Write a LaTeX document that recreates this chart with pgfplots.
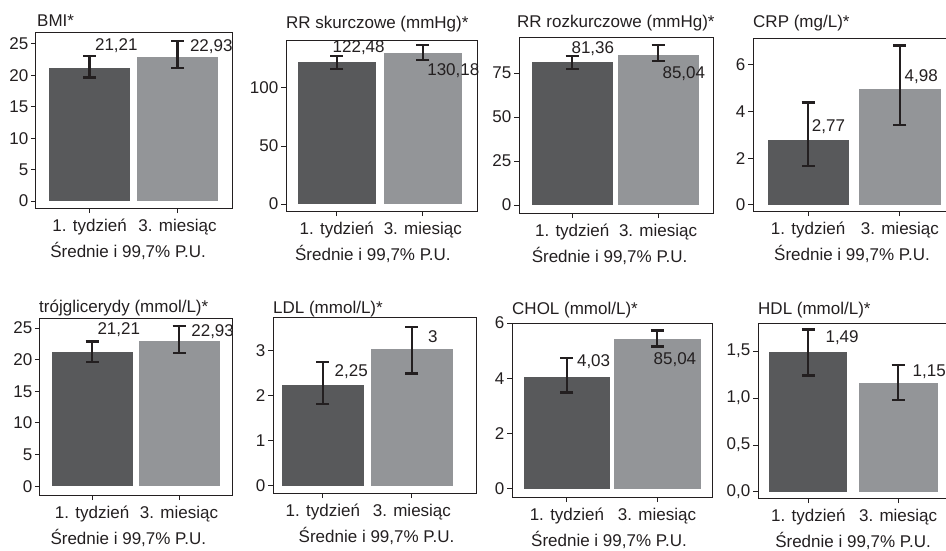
\documentclass[border=0pt]{standalone}
\usepackage{fontspec}
\setmainfont{Liberation Sans}
\usepackage{pgfplots}
\pgfplotsset{compat=1.18}
\definecolor{dark}{HTML}{58595B}
\definecolor{light}{HTML}{939598}
\definecolor{eb}{HTML}{231F20}
\definecolor{ax}{HTML}{231F20}
\newcommand\fsz{\fontsize{17}{20}\selectfont}
\pgfplotsset{
 panel/.style={
  scale only axis, anchor=south west, clip=false,
  axis line style={line width=1pt, color=ax},
  tick style={line width=1pt, color=ax},
  tick align=outside, major tick length=5pt, tick pos=left,
  xtick={0,1}, xticklabels={1. tydzień,3. miesiąc},
  xticklabel style={anchor=base, yshift=-18pt, font=\fsz, text=ax},
  yticklabel style={font=\fsz, text=ax, inner sep=2.5pt},
 },
 bars/.style={ybar, bar shift=0pt, draw=none, bar width=#1,
  error bars/y dir=both, error bars/y explicit,
  error bars/error bar style={line width=2.3pt, color=eb, draw=eb},
  error bars/error mark=|,
  error bars/error mark options={line width=2.5pt, mark size=6.5pt, color=eb, draw=eb}},
}
\tikzset{
 lab/.style={anchor=west, inner sep=0pt, font=\fsz, text=ax},
 ttl/.style={anchor=base west, inner sep=0pt, font=\fsz, text=ax},
 xl/.style={anchor=base, inner sep=0pt, font=\fsz, text=ax, yshift=-49pt},
}
\begin{document}
\begin{tikzpicture}
\path[use as bounding box] (0,0) rectangle (946pt,550pt);
% ---------- BMI
\begin{axis}[panel, at={(36pt,342pt)}, width=196pt, height=175pt,
  xmin=-0.61, xmax=1.62, ymin=-1.1, ymax=26.75,
  ytick={0,5,10,15,20,25}, yticklabels={0,5,10,15,20,25}]
\addplot[fill=dark, bars=81pt] coordinates {(0,21.21) +=(0,1.89) -=(0,1.51)};
\addplot[fill=light, bars=81pt] coordinates {(1,22.93) +=(0,2.57) -=(0,1.73)};
\node[lab] at (axis cs:0.06,24.8) {21,21};
\node[lab] at (axis cs:1.14,24.5) {22,93};
\node[ttl, xshift=1pt, yshift=6pt] at (rel axis cs:0,1) {BMI*};
\node[xl] at (rel axis cs:0.47,0) {Średnie i 99,7\% P.U.};
\end{axis}
% ---------- RR skurczowe
\begin{axis}[panel, at={(286pt,339pt)}, width=191pt, height=170pt,
  xmin=-0.59, xmax=1.63, ymin=-6, ymax=140.5,
  ytick={0,50,100}, yticklabels={0,50,100}]
\addplot[fill=dark, bars=78pt] coordinates {(0,122.48) +=(0,5.1) -=(0,6.1)};
\addplot[fill=light, bars=78pt] coordinates {(1,130.18) +=(0,6.8) -=(0,6.2)};
\node[lab] at (axis cs:-0.05,135) {122,48};
\node[lab] at (axis cs:1.05,114.6) {130,18};
\node[ttl, yshift=12pt] at (rel axis cs:0,1) {RR skurczowe (mmHg)*};
\node[xl] at (rel axis cs:0.455,0) {Średnie i 99,7\% P.U.};
\end{axis}
% ---------- RR rozkurczowe
\begin{axis}[panel, at={(519pt,337pt)}, width=194pt, height=176pt,
  xmin=-0.62, xmax=1.64, ymin=-4.5, ymax=95.5,
  ytick={0,25,50,75}, yticklabels={0,25,50,75}]
\addplot[fill=dark, bars=81pt] coordinates {(0,81.36) +=(0,3.3) -=(0,4.1)};
\addplot[fill=light, bars=81pt] coordinates {(1,85.04) +=(0,6.0) -=(0,3.2)};
\node[lab] at (axis cs:-0.01,89) {81,36};
\node[lab] at (axis cs:1.05,74.4) {85,04};
\node[ttl, xshift=-2pt, yshift=10pt] at (rel axis cs:0,1) {RR rozkurczowe (mmHg)*};
\node[xl] at (rel axis cs:0.467,0) {Średnie i 99,7\% P.U.};
\end{axis}
% ---------- CRP
\begin{axis}[panel, at={(753pt,339pt)}, width=202pt, height=172pt,
  xmin=-0.6, xmax=1.6, ymin=-0.26, ymax=7.1,
  ytick={0,2,4,6}, yticklabels={0,2,4,6}]
\addplot[fill=dark, bars=81pt] coordinates {(0,2.77) +=(0,1.61) -=(0,1.1)};
\addplot[fill=light, bars=82pt] coordinates {(1,4.98) +=(0,1.84) -=(0,1.55)};
\node[lab] at (axis cs:0.04,3.35) {2,77};
\node[lab] at (axis cs:1.05,5.49) {4,98};
\node[ttl, yshift=11pt] at (rel axis cs:0,1) {CRP (mg/L)*};
\node[xl] at (rel axis cs:0.49,0) {Średnie i 99,7\% P.U.};
\end{axis}
% ---------- trojglicerydy
\begin{axis}[panel, at={(40pt,55pt)}, width=192pt, height=177pt,
  xmin=-0.6, xmax=1.61, ymin=-1.4, ymax=26.6,
  ytick={0,5,10,15,20,25}, yticklabels={0,5,10,15,20,25}]
\addplot[fill=dark, bars=81pt] coordinates {(0,21.21) +=(0,1.7) -=(0,1.6)};
\addplot[fill=light, bars=81pt] coordinates {(1,22.93) +=(0,2.4) -=(0,1.9)};
\node[lab] at (axis cs:0.06,24.7) {21,21};
\node[lab] at (axis cs:1.14,24.4) {22,93};
\node[ttl, xshift=-1pt, yshift=6pt] at (rel axis cs:0,1) {trójglicerydy (mmol/L)*};
\node[xl] at (rel axis cs:0.46,0) {Średnie i 99,7\% P.U.};
\end{axis}
% ---------- LDL
\begin{axis}[panel, at={(273pt,57pt)}, width=203pt, height=175pt,
  xmin=-0.56, xmax=1.72, ymin=-0.16, ymax=3.73,
  ytick={0,1,2,3}, yticklabels={0,1,2,3}]
\addplot[fill=dark, bars=82pt] coordinates {(0,2.25) +=(0,0.5) -=(0,0.43)};
\addplot[fill=light, bars=82pt] coordinates {(1,3.03) +=(0,0.5) -=(0,0.53)};
\node[lab] at (axis cs:0.13,2.53) {2,25};
\node[lab] at (axis cs:1.18,3.31) {3};
\node[ttl, yshift=4pt] at (rel axis cs:0,1) {LDL (mmol/L)*};
\node[xl] at (rel axis cs:0.51,0) {Średnie i 99,7\% P.U.};
\end{axis}
% ---------- CHOL
\begin{axis}[panel, at={(512pt,53pt)}, width=200pt, height=174pt,
  xmin=-0.61, xmax=1.61, ymin=-0.29, ymax=6.0,
  ytick={0,2,4,6}, yticklabels={0,2,4,6}]
\addplot[fill=dark, bars=86pt] coordinates {(0,4.03) +=(0,0.7) -=(0,0.54)};
\addplot[fill=light, bars=87pt] coordinates {(1,5.42) +=(0,0.3) -=(0,0.27)};
\node[lab] at (axis cs:0.11,4.6) {4,03};
\node[lab] at (axis cs:0.96,4.68) {85,04};
\node[ttl, yshift=9pt] at (rel axis cs:0,1) {CHOL (mmol/L)*};
\node[xl] at (rel axis cs:0.485,0) {Średnie i 99,7\% P.U.};
\end{axis}
% ---------- HDL
\begin{axis}[panel, at={(758pt,52pt)}, width=194pt, height=175pt,
  xmin=-0.56, xmax=1.6, ymin=-0.064, ymax=1.80,
  ytick={0,0.5,1,1.5}, yticklabels={0{,}0,0{,}5,1{,}0,1{,}5}]
\addplot[fill=dark, bars=78pt] coordinates {(0,1.49) +=(0,0.24) -=(0,0.25)};
\addplot[fill=light, bars=79pt] coordinates {(1,1.16) +=(0,0.19) -=(0,0.18)};
\node[lab] at (axis cs:0.19,1.64) {1,49};
\node[lab] at (axis cs:1.16,1.28) {1,15};
\node[ttl, yshift=9pt] at (rel axis cs:0,1) {HDL (mmol/L)*};
\node[xl] at (rel axis cs:0.49,0) {Średnie i 99,7\% P.U.};
\end{axis}
\end{tikzpicture}
\end{document}
